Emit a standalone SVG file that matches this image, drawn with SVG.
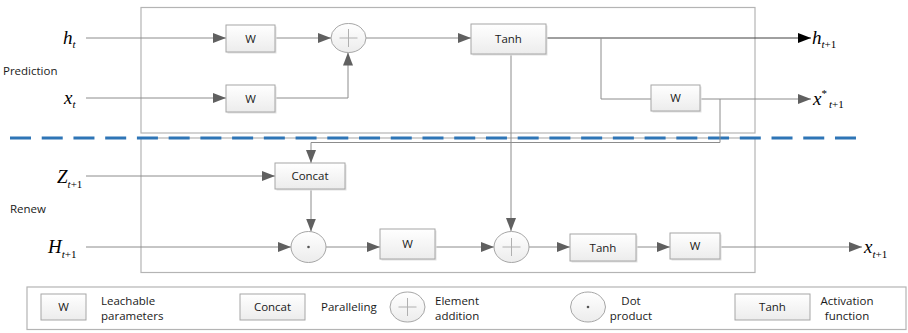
<svg xmlns="http://www.w3.org/2000/svg" width="908" height="333" viewBox="0 0 908 333">
<style>
.frame{fill:none;stroke:#b4b4b4;stroke-width:1.2}
.box{fill:url(#g);stroke:#a6a6a6;stroke-width:1}
.sh{fill:#e2e2e2}
.circ{fill:url(#g);stroke:#a6a6a6;stroke-width:1}
.lbl{font-family:"Open Sans","Noto Sans",sans-serif;font-size:11.5px;fill:#1a1a1a;text-anchor:middle}
.txt{font-family:"Open Sans","Noto Sans",sans-serif;font-size:11.5px;fill:#1a1a1a}
.m{font-family:"Liberation Serif","Times New Roman",serif;font-style:italic;font-size:19px;fill:#000}
.s{font-size:11px}
.r{font-style:normal}
.c{fill:none;stroke:#8c8c8c;stroke-width:1;marker-end:url(#a)}
.n{fill:none;stroke:#8c8c8c;stroke-width:1}
.sym{fill:none;stroke:#b0b0b0;stroke-width:1}
</style>
<defs>
<linearGradient id="g" x1="0" y1="0" x2="0" y2="1">
<stop offset="0" stop-color="#ffffff"/>
<stop offset="1" stop-color="#ececec"/>
</linearGradient>
<marker id="a" markerUnits="userSpaceOnUse" markerWidth="14" markerHeight="10" refX="13" refY="5" orient="auto">
<path d="M0,0 L13,5 L0,10 Z" fill="#606060"/>
</marker>
<marker id="ab" markerUnits="userSpaceOnUse" markerWidth="14" markerHeight="10" refX="13" refY="5" orient="auto">
<path d="M0,0 L13,5 L0,10 Z" fill="#000"/>
</marker>
</defs>

<rect width="908" height="333" fill="#fff"/>

<g id="frames">
<rect class="frame" x="141" y="7.5" width="614" height="125.5"/>
<rect class="frame" x="141" y="138" width="614" height="134.5"/>
<rect class="frame" x="27" y="287" width="879" height="42.5"/>
</g>

<g id="divider">
<line x1="10" y1="138" x2="856" y2="138" stroke="#2e75b6" stroke-width="3.2" stroke-dasharray="21 10.73"/>
</g>

<g id="side-labels">
<text class="txt" x="3" y="75">Prediction</text>
<text class="txt" x="10" y="213">Renew</text>
</g>

<g id="connectors">
<path class="c" d="M86,38 H226"/>
<path class="c" d="M86,98 H226"/>
<path class="c" d="M275,38 H331"/>
<path class="c" d="M275,98 H348 V52.5"/>
<path class="c" d="M366,38 H471"/>
<path d="M546,38 H811" fill="none" stroke="#404040" stroke-width="1" marker-end="url(#ab)"/>
<path class="n" d="M601,38 V99 H651"/>
<path class="c" d="M700,99 H811"/>
<path class="c" d="M720,99 V142.5 H311 V163"/>
<path class="c" d="M511,54 V231"/>
<path class="c" d="M86,176 H275"/>
<path class="c" d="M311,189 V231.5"/>
<path class="c" d="M86,247 H291"/>
<path class="c" d="M326,247 H380"/>
<path class="c" d="M435,247 H494"/>
<path class="c" d="M529,247 H570"/>
<path class="c" d="M636,247 H670"/>
<path class="c" d="M721,247 H862"/>
</g>

<g id="w1"><rect class="sh" x="227.5" y="26.5" width="49" height="27"/><rect class="box" x="226" y="25" width="49" height="27"/><text class="lbl" x="250.5" y="42.5">W</text></g>
<g id="w2"><rect class="sh" x="227.5" y="86.5" width="49" height="27"/><rect class="box" x="226" y="85" width="49" height="27"/><text class="lbl" x="250.5" y="102.5">W</text></g>
<g id="add1"><ellipse class="circ" cx="348.5" cy="38" rx="17.5" ry="14.5"/><path class="sym" d="M339.5,38 H357.5 M348.5,29 V47"/></g>
<g id="tanh1"><rect class="sh" x="472.5" y="25.5" width="75" height="30"/><rect class="box" x="471" y="24" width="75" height="30"/><text class="lbl" x="508.5" y="43">Tanh</text></g>
<g id="w3"><rect class="sh" x="652.5" y="86.5" width="49" height="26"/><rect class="box" x="651" y="85" width="49" height="26"/><text class="lbl" x="675.5" y="102">W</text></g>

<g id="concat"><rect class="sh" x="276.5" y="164.5" width="70" height="26"/><rect class="box" x="275" y="163" width="70" height="26"/><text class="lbl" x="310" y="180">Concat</text></g>
<g id="dot"><ellipse class="circ" cx="308.5" cy="247" rx="17.5" ry="15.5"/><circle cx="308.5" cy="247" r="1.3" fill="#555"/></g>
<g id="w4"><rect class="sh" x="381.5" y="230.5" width="55" height="30"/><rect class="box" x="380" y="229" width="55" height="30"/><text class="lbl" x="407.5" y="248">W</text></g>
<g id="add2"><ellipse class="circ" cx="511.5" cy="247" rx="17.5" ry="15.5"/><path class="sym" d="M502.5,247 H520.5 M511.5,238 V256"/></g>
<g id="tanh2"><rect class="sh" x="571.5" y="235.5" width="66" height="27"/><rect class="box" x="570" y="234" width="66" height="27"/><text class="lbl" x="603" y="251.5">Tanh</text></g>
<g id="w5"><rect class="sh" x="671.5" y="234.5" width="50" height="26"/><rect class="box" x="670" y="233" width="50" height="26"/><text class="lbl" x="695" y="250">W</text></g>

<g id="math-labels">
<text class="m" x="63" y="44">h<tspan class="s" dy="4">t</tspan></text>
<text class="m" x="64" y="104">x<tspan class="s" dy="4">t</tspan></text>
<text class="m" x="812" y="44">h<tspan class="s" dy="4">t</tspan><tspan class="s r">+1</tspan></text>
<text class="m" x="813" y="105">x<tspan class="s r" dy="-8">*</tspan><tspan class="s" dy="11" dx="2">t</tspan><tspan class="s r">+1</tspan></text>
<text class="m" x="57" y="183">Z<tspan class="s" dy="5">t</tspan><tspan class="s r">+1</tspan></text>
<text class="m" x="48" y="253">H<tspan class="s" dy="5">t</tspan><tspan class="s r">+1</tspan></text>
<text class="m" x="864" y="253">x<tspan class="s" dy="5">t</tspan><tspan class="s r">+1</tspan></text>
</g>

<g id="legend">
<rect class="box" x="41" y="294" width="45" height="26" fill="#fff"/>
<text class="lbl" x="63.5" y="311">W</text>
<text class="txt" x="101" y="305">Leachable</text>
<text class="txt" x="101" y="320">parameters</text>
<rect class="box" x="240" y="294" width="65" height="26"/>
<text class="lbl" x="272.5" y="311">Concat</text>
<text class="txt" x="321" y="311">Paralleling</text>
<ellipse class="circ" cx="407.5" cy="307" rx="17.5" ry="15"/>
<path class="sym" d="M398.5,307 H416.5 M407.5,298 V316"/>
<text class="txt" x="435" y="305">Element</text>
<text class="txt" x="435" y="320">addition</text>
<ellipse class="circ" cx="588" cy="307" rx="17.5" ry="15"/>
<circle cx="588" cy="307" r="1.3" fill="#555"/>
<text class="lbl" x="631" y="305">Dot</text>
<text class="lbl" x="631" y="320">product</text>
<rect class="box" x="735" y="294" width="75" height="26"/>
<text class="lbl" x="772.5" y="311">Tanh</text>
<text class="lbl" x="847" y="305">Activation</text>
<text class="lbl" x="847" y="320">function</text>
</g>
</svg>
